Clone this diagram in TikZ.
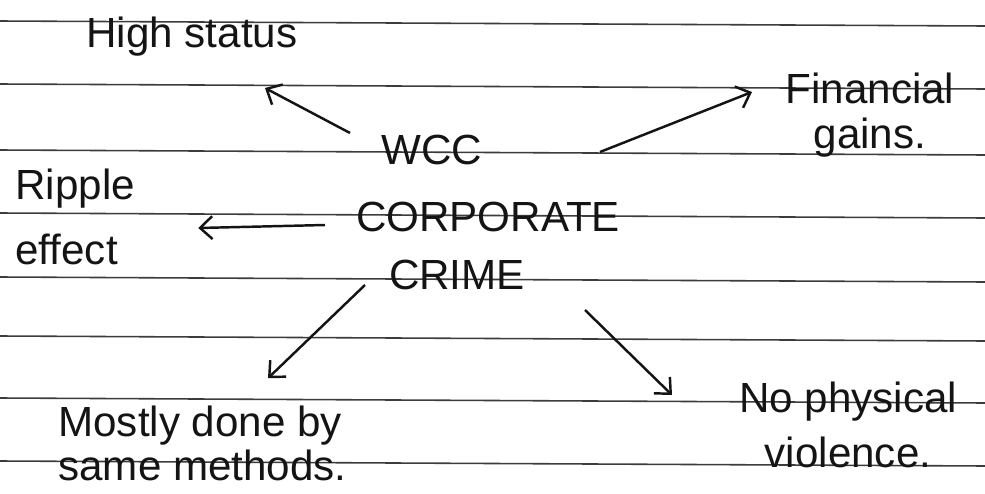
\documentclass[tikz,border=0pt]{standalone}
\usepackage{fontspec}
\setmainfont{Liberation Sans}
\usepackage{tikz}
\usetikzlibrary{arrows.meta}
\definecolor{ruleline}{RGB}{60, 60, 60}
\definecolor{ink}{RGB}{20, 20, 20}

\begin{document}
\begin{tikzpicture}[x = 0.02cm, y = -0.02cm,
			txt/.style = {inner sep = 0pt, text = ink, font = \fontsize{24}{30}\selectfont},
			arr/.style = {draw = ink, line width = 1.4pt, -{Straight Barb[length = 7pt, width = 13pt]}}]
			\useasboundingbox [fill = white] (0,0) rectangle (985,494);
			\foreach \y in {21, 84, 150, 213, 277, 336, 398, 461}
				\draw [ruleline, line width = 0.9pt] (0,\y) -- (985,\y+5);
			\node (wcc) at (432,150) [txt] {WCC};
			\node (corp) at (488,217) [txt] {CORPORATE};
			\node (crime) at (457,275) [txt] {CRIME};
			\node (high) at (192,37) [txt] {High status};
			\node (fin) at (870,115) [txt, align = center, font = \fontsize{24}{26}\selectfont] {Financial\\gains.};
			\node (ripple) at (15,217) [txt, anchor = west, align = left, font = \fontsize{24}{37}\selectfont] {Ripple\\effect};
			\node (methods) at (58,443) [txt, anchor = west, align = left, font = \fontsize{24}{25}\selectfont] {Mostly done by\\same methods.};
			\node (viol) at (848,425) [txt, align = center, font = \fontsize{24}{31}\selectfont] {No physical\\violence.};
			\draw [arr] ([shift = {(-82,-17)}]wcc.center) -- ([shift = {(73,51)}]high.center);
			\draw [arr] ([shift = {(168,2)}]wcc.center) -- ([shift = {(-118,-23)}]fin.center);
			\draw [arr] ([shift = {(-163,8)}]corp.center) -- ([shift = {(63,11)}]ripple.east);
			\draw [arr] ([shift = {(-92,10)}]crime.center) -- ([shift = {(210,-27)}]methods.north west);
			\draw [arr] ([shift = {(128,35)}]crime.center) -- ([shift = {(-176,-30)}]viol.center);
			\end{tikzpicture}
\end{document}
